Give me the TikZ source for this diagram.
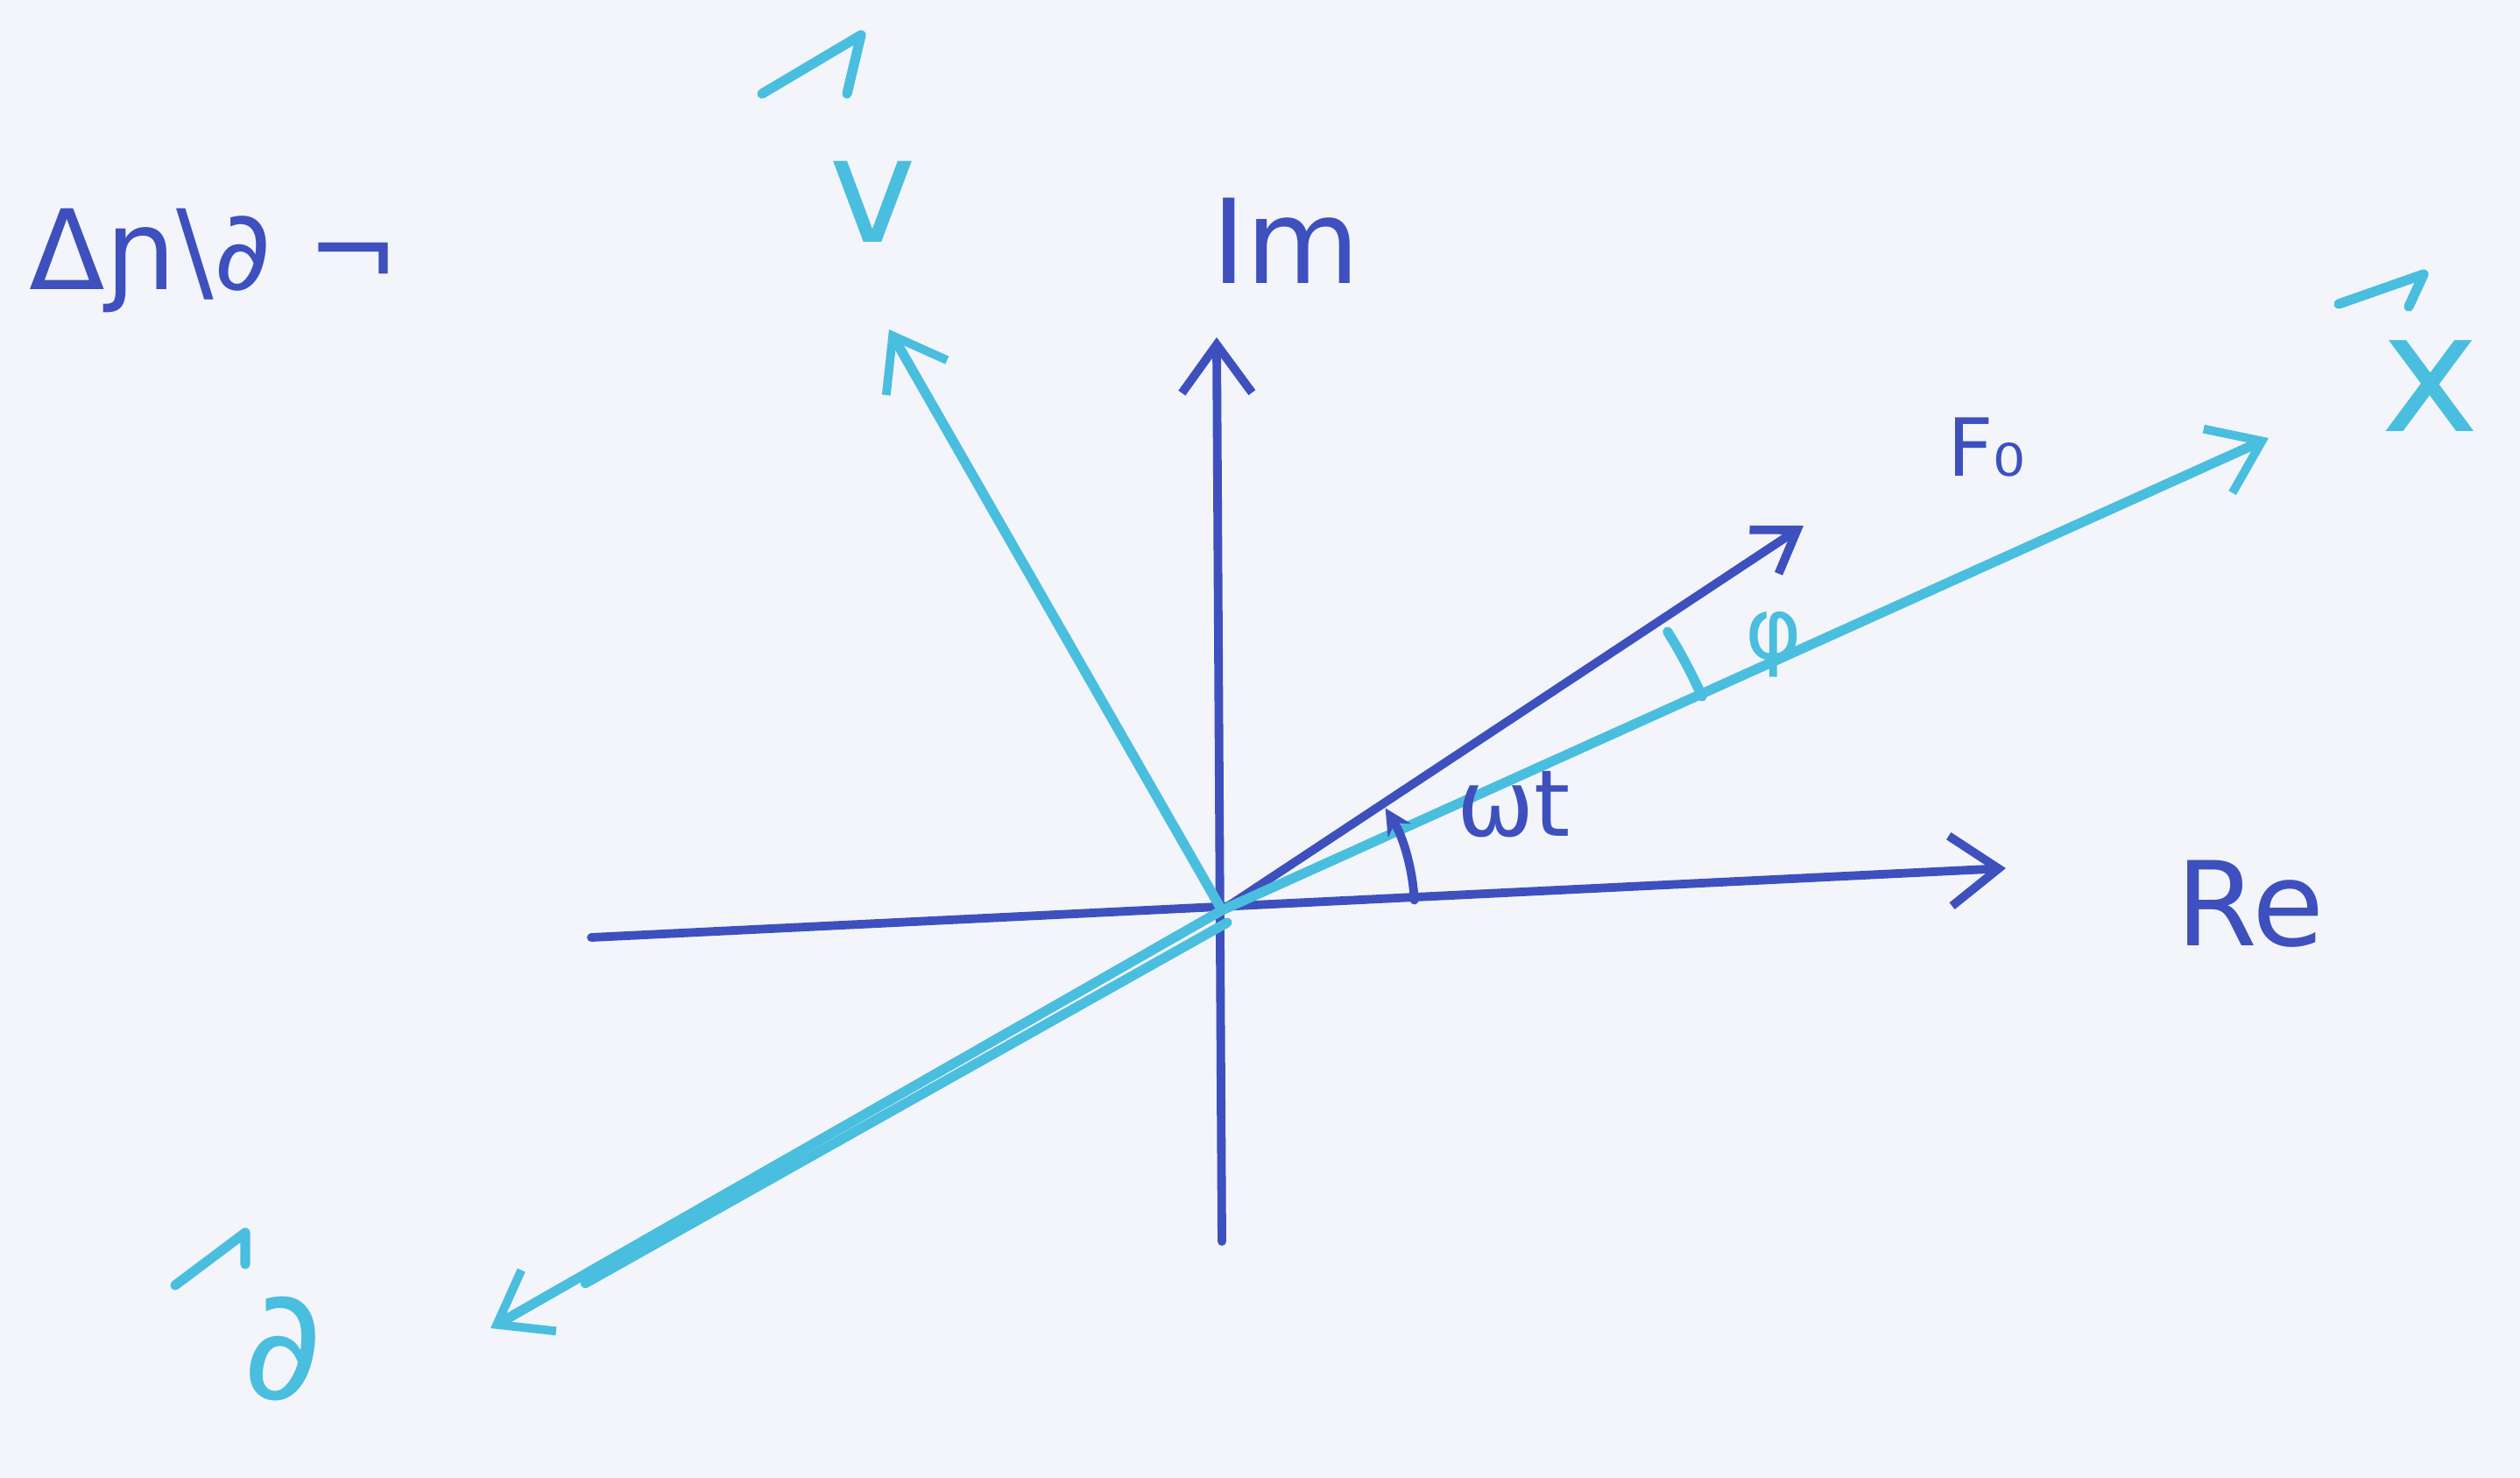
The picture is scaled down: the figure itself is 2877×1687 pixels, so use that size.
\documentclass[tikz,border=0pt]{standalone}
\usepackage{fontspec}
\setmainfont{DejaVu Sans}
\usetikzlibrary{arrows.meta,calc}
\definecolor{pen}{RGB}{62,80,190}
\definecolor{cyanpen}{RGB}{74,190,222}
\definecolor{paper}{RGB}{243,245,250}
\begin{document}
\begin{tikzpicture}[x=0.01cm,y=-0.01cm,
  penline/.style={draw=pen,line width=2.8pt,line cap=round,line join=round},
  cyanline/.style={draw=cyanpen,line width=3.2pt,line cap=round,line join=round},
  bigbarb/.style={-{Straight Barb[length=0.55cm,width=0.8cm,line width=2.8pt]}},
  smallbarb/.style={-{Straight Barb[length=0.45cm,width=0.6cm,line width=2.8pt]}},
  lbl/.style={inner sep=0pt,outer sep=0pt}]
\fill[paper] (0,0) rectangle (2877,1687);
\useasboundingbox (0,0) rectangle (2877,1687);
% points
\coordinate (O) at (1395,1039);
\coordinate (imB) at (1395,1417);
\coordinate (imT) at (1389,385);
\coordinate (reL) at (675,1070);
\coordinate (reT) at (2290,991);
\coordinate (F) at (2059,600);
\coordinate (X) at (2590,500);
\coordinate (V) at (1015,376);
\coordinate (A) at (560,1516);
% axes
\draw[penline,bigbarb] (imB) -- (imT);
\draw[penline,bigbarb] (reL) -- (reT);
% vectors
\draw[penline,smallbarb] (O) -- (F);
\draw[cyanline,bigbarb] (O) -- (X);
\draw[cyanline,bigbarb] (O) -- (V);
\draw[cyanline,bigbarb] (O) -- (A);
\draw[cyanline] ($(O)+(6,14)$) -- ($(A)!0.12!(O)+(8,6)$);
% angles
\draw[penline,-{Stealth[length=0.3cm,width=0.3cm]}] ($(O)+(-3:220)$) arc[start angle=-3,end angle=-32,radius=220];
\draw[cyanline] ($(O)+(-24:600)$) arc[start angle=-24,end angle=-32,radius=600];
% labels
\node[lbl,text=pen,font=\fontsize{38}{38}\selectfont] (im) at (1468,275) {Im};
\node[lbl,text=pen,font=\fontsize{38}{38}\selectfont] (re) at (2569,1032) {Re};
\node[lbl,text=pen,font=\fontsize{26}{26}\selectfont] (f0) at (2268,510) {F₀};
\node[lbl,text=pen,font=\fontsize{30}{30}\selectfont] (wt) at (1728,918) {ωt};
\node[lbl,text=cyanpen,font=\fontsize{28}{28}\selectfont] (phi) at (2025,736) {φ};
\node[lbl,text=pen,font=\fontsize{36}{36}\selectfont] (title) at (245,298) {Δɲ\textbackslash∂ ¬};
\node[lbl,text=cyanpen,font=\fontsize{54}{54}\selectfont] (xl) at (2775,441) {x};
\node[lbl,text=cyanpen,font=\fontsize{48}{48}\selectfont] (vl) at (996,230) {v};
\node[lbl,text=cyanpen,font=\fontsize{50}{50}\selectfont] (al) at (323,1540) {∂};
% accent arrows of the vector labels
\draw[cyanline] ([shift={(-105,-94)}]xl.center) -- ([shift={(-8,-128)}]xl.center) -- ([shift={(-25,-91)}]xl.center);
\draw[cyanline] ([shift={(-126,-123)}]vl.center) -- ([shift={(-13,-190)}]vl.center) -- ([shift={(-29,-123)}]vl.center);
\draw[cyanline] ([shift={(-123,-73)}]al.center) -- ([shift={(-43,-133)}]al.center) -- ([shift={(-43,-97)}]al.center);
\end{tikzpicture}
\end{document}
